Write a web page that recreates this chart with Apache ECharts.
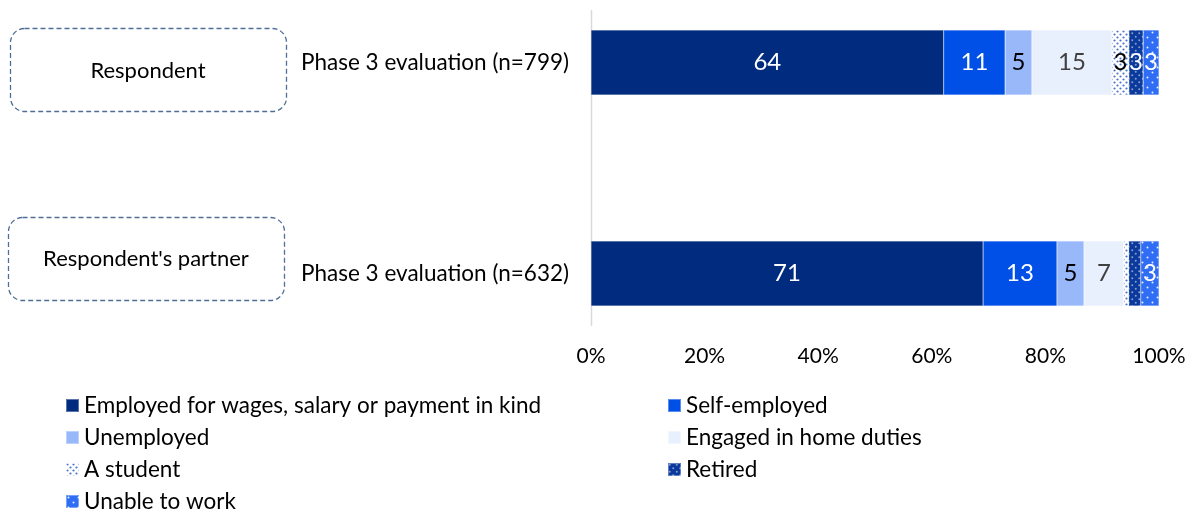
<!DOCTYPE html>
<html><head><meta charset="utf-8">
<script src="https://cdn.jsdelivr.net/npm/echarts@6/dist/echarts.min.js"></script>
<style>html,body{margin:0;padding:0;background:#fff}#c{width:1190px;height:511px}</style>
</head><body><div id="c"></div>
<script>
const categories = ['Phase 3 evaluation (n=799)', 'Phase 3 evaluation (n=632)'];
const groupLabels = ['Respondent', "Respondent's partner"];
const seriesNames = ['Employed for wages, salary or payment in kind', 'Self-employed', 'Unemployed', 'Engaged in home duties', 'A student', 'Retired', 'Unable to work'];
const employed = [64.4, 71.1];
const selfEmployed = [11.2, 13.4];
const unemployed = [4.9, 4.9];
const homeDuties = [14.6, 7.2];
const student = [3.1, 0.9];
const retired = [2.6, 2.2];
const unableToWork = [2.9, 3.3];
const tickLabels = ['0%', '20%', '40%', '60%', '80%', '100%'];

const FONT = 'Lato';
function pattern(bg, dot, step, r, stagger) {
  const c = document.createElement('canvas');
  c.width = step; c.height = step;
  const g = c.getContext('2d');
  g.fillStyle = bg; g.fillRect(0, 0, step, step);
  g.fillStyle = dot;
  g.beginPath(); g.arc(step * 0.25, step * 0.25, r, 0, Math.PI * 2); g.fill();
  if (stagger) { g.beginPath(); g.arc(step * 0.75, step * 0.75, r, 0, Math.PI * 2); g.fill(); }
  return { image: c, repeat: 'repeat' };
}
const colors = [
  '#002B7F',
  '#0050E8',
  '#98B8FA',
  '#E9F0FD',
  pattern('#FFFFFF', '#4A74C9', 6, 1.1, true),
  pattern('#0A3A9E', '#8C9CC0', 7, 1.0, true),
  pattern('#2F6DF4', '#E6EEFF', 10, 1.0, true)
];
const labelColors = ['#FFFFFF', '#FFFFFF', '#000000', '#404040', '#000000', '#FFFFFF', '#FFFFFF'];
const raw = [employed, selfEmployed, unemployed, homeDuties, student, retired, unableToWork];
const totals = categories.map((_, i) => raw.reduce((s, a) => s + a[i], 0));

const series = raw.map((arr, k) => ({
  name: seriesNames[k],
  type: 'bar',
  stack: 'all',
  barWidth: 65,
  data: arr.map((v, i) => ({ value: v / totals[i] * 100, raw: v })),
  itemStyle: { color: colors[k], borderColor: 'rgba(255,255,255,0.35)', borderWidth: 0.5 },
  label: {
    show: true,
    position: 'inside',
    fontFamily: FONT,
    fontSize: 24,
    color: labelColors[k],
    formatter: p => (Math.round(p.data.raw) >= 3 ? String(Math.round(p.data.raw)) : '')
  },
  emphasis: { disabled: true }
}));

// legend layout: [series index, column, row]
const legendSlots = [[0, 0, 0], [1, 1, 0], [2, 0, 1], [3, 1, 1], [4, 0, 2], [5, 1, 2], [6, 0, 3]];
const legends = legendSlots.map(([k, col, row]) => ({
  data: [seriesNames[k]],
  left: col === 0 ? 65 : 667,
  top: 394 + row * 32,
  padding: 0,
  itemWidth: 13, itemHeight: 13,
  icon: 'rect',
  textStyle: { fontFamily: FONT, fontSize: 22.5, color: '#000', padding: [0, 0, 0, 0] },
  selectedMode: false
}));

const chart = echarts.init(document.getElementById('c'), null, { renderer: 'canvas' });
chart.setOption({
  animation: false,
  grid: { left: 591, right: 31, top: -43, bottom: 132, outerBoundsMode: 'none', containLabel: false },
  xAxis: {
    type: 'value', min: 0, max: 100, interval: 20, offset: -33,
    axisLine: { show: false }, axisTick: { show: false }, splitLine: { show: false },
    axisLabel: { fontFamily: FONT, fontSize: 21, color: '#000', margin: 0,
      formatter: v => tickLabels[Math.round(v / 20)] }
  },
  yAxis: {
    type: 'category', data: categories, inverse: true,
    axisLine: { show: false },
    axisTick: { show: false },
    axisLabel: { fontFamily: FONT, fontSize: 22.5, color: '#000', margin: 22 }
  },
  legend: legends,
  graphic: [
    { type: 'line', shape: { x1: 591.5, y1: 10, x2: 591.5, y2: 326 },
      style: { stroke: '#D9D9D9', lineWidth: 1.5 } },
    { type: 'rect', shape: { x: 10.5, y: 28.5, width: 276, height: 83, r: 14 },
      style: { fill: 'none', stroke: '#4F6F99', lineWidth: 1.3, lineDash: [5, 3] } },
    { type: 'text', x: 148, y: 71, style: { text: groupLabels[0], fontFamily: FONT, fontSize: 22, fill: '#000', align: 'center', verticalAlign: 'middle' } },
    { type: 'rect', shape: { x: 8.5, y: 217.5, width: 276, height: 83, r: 14 },
      style: { fill: 'none', stroke: '#4F6F99', lineWidth: 1.3, lineDash: [5, 3] } },
    { type: 'text', x: 146, y: 259, style: { text: groupLabels[1], fontFamily: FONT, fontSize: 22, fill: '#000', align: 'center', verticalAlign: 'middle' } }
  ],
  series: series
});
</script></body></html>
